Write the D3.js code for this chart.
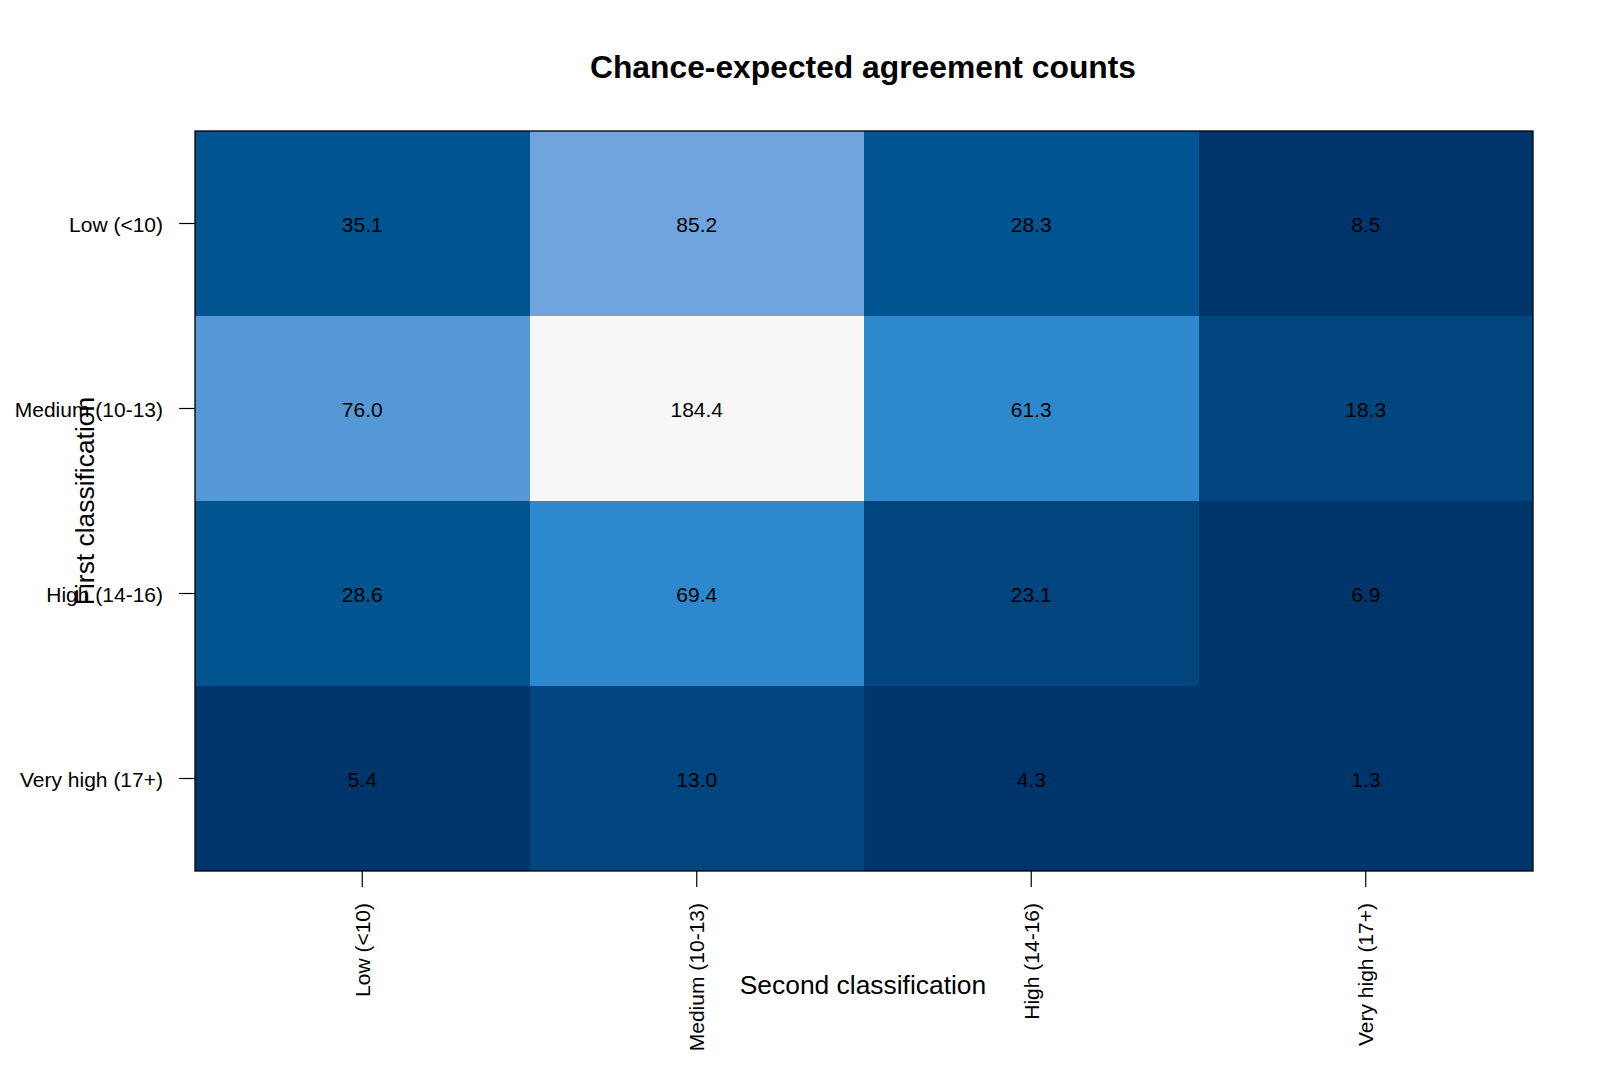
<!DOCTYPE html>
<html>
<head>
<meta charset="utf-8">
<script src="https://cdn.jsdelivr.net/npm/d3@7"></script>
<style>
  body { margin: 0; background: #fff; }
  svg text { font-family: "Liberation Sans", Arial, sans-serif; fill: #000; }
</style>
</head>
<body>
<svg id="chart" width="1600" height="1067"></svg>
<script>
const rowCategories = ["Low (<10)", "Medium (10-13)", "High (14-16)", "Very high (17+)"];
const colCategories = ["Low (<10)", "Medium (10-13)", "High (14-16)", "Very high (17+)"];
// values[row][col]: row = first classification, col = second classification
const valuesLow = [35.1, 85.2, 28.3, 8.5];
const valuesMedium = [76.0, 184.4, 61.3, 18.3];
const valuesHigh = [28.6, 69.4, 23.1, 6.9];
const valuesVeryHigh = [5.4, 13.0, 4.3, 1.3];
const values = [valuesLow, valuesMedium, valuesHigh, valuesVeryHigh];
const colorBreaks = [10, 25, 50, 72, 80, 100];
const colorRange = ["#00356B", "#01457F", "#00548F", "#2D88CD", "#5598D6", "#6FA4DC", "#F7F7F7"];

const titleText = "Chance-expected agreement counts";
const xTitle = "Second classification";
const yTitle = "First classification";

const svg = d3.select("#chart");
const margin = { left: 195, top: 131, right: 1600 - 1533, bottom: 1067 - 871 };
const W = 1600 - margin.left - margin.right;
const H = 1067 - margin.top - margin.bottom;

const x = d3.scaleBand().domain(colCategories).range([0, W]);
const y = d3.scaleBand().domain(rowCategories).range([0, H]);
const color = d3.scaleThreshold().domain(colorBreaks).range(colorRange);

const cells = [];
rowCategories.forEach((r, i) => colCategories.forEach((c, j) => cells.push({ r, c, v: values[i][j] })));

const g = svg.append("g").attr("transform", `translate(${margin.left},${margin.top})`);

g.selectAll("rect.cell").data(cells).join("rect")
  .attr("class", "cell")
  .attr("x", d => x(d.c)).attr("y", d => y(d.r))
  .attr("width", x.bandwidth()).attr("height", y.bandwidth())
  .attr("fill", d => color(d.v))
  .attr("shape-rendering", "crispEdges");

g.selectAll("text.val").data(cells).join("text")
  .attr("class", "val")
  .attr("x", d => x(d.c) + x.bandwidth() / 2)
  .attr("y", d => y(d.r) + y.bandwidth() / 2)
  .attr("dy", "0.42em")
  .attr("text-anchor", "middle")
  .style("font-size", "21px")
  .text(d => d.v.toFixed(1));

g.append("rect")
  .attr("x", 0).attr("y", 0).attr("width", W).attr("height", H)
  .attr("fill", "none").attr("stroke", "#000").attr("stroke-width", 1.3);

// bottom axis
const xAxis = g.append("g").attr("transform", `translate(0,${H})`)
  .call(d3.axisBottom(x).tickSize(16).tickPadding(0));
xAxis.select(".domain").remove();
xAxis.selectAll(".tick line").attr("stroke", "#000").attr("stroke-width", 1.2);
xAxis.selectAll(".tick text")
  .attr("transform", "translate(0,32) rotate(-90)")
  .attr("x", 0).attr("y", 0).attr("dy", "0.36em")
  .attr("text-anchor", "end")
  .style("font-size", "21px")
  .style("font-family", "'Liberation Sans', Arial, sans-serif")
  .attr("fill", "#000");

// left axis
const yAxis = g.append("g")
  .call(d3.axisLeft(y).tickSize(16).tickPadding(16));
yAxis.select(".domain").remove();
yAxis.selectAll(".tick line").attr("stroke", "#000").attr("stroke-width", 1.2);
yAxis.selectAll(".tick text")
  .attr("dy", "0.42em")
  .style("font-size", "21px")
  .style("font-family", "'Liberation Sans', Arial, sans-serif")
  .attr("fill", "#000");

// titles
svg.append("text")
  .attr("x", margin.left + W / 2 - 1).attr("y", 78)
  .attr("text-anchor", "middle")
  .style("font-size", "31.8px").style("font-weight", "bold")
  .text(titleText);

svg.append("text")
  .attr("x", margin.left + W / 2 - 1).attr("y", 994)
  .attr("text-anchor", "middle")
  .style("font-size", "26.4px")
  .text(xTitle);

svg.append("text")
  .attr("transform", `translate(94,${margin.top + H / 2}) rotate(-90)`)
  .attr("text-anchor", "middle")
  .style("font-size", "26.4px")
  .text(yTitle);
</script>
</body>
</html>
